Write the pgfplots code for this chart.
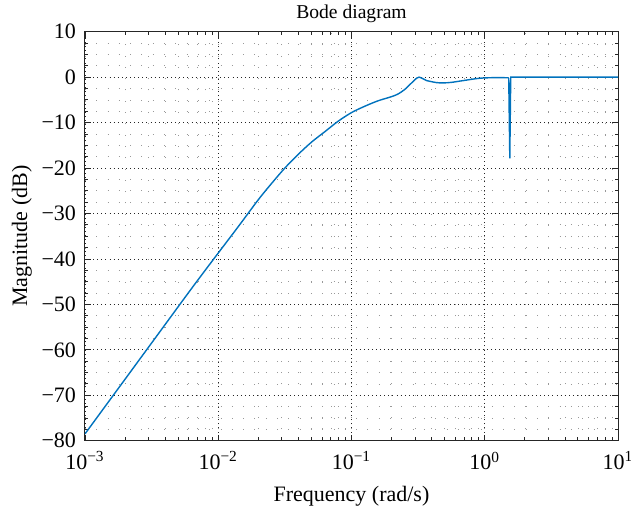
\documentclass[border=0pt]{standalone}
\usepackage{fontspec}
\setmainfont{Liberation Serif}
\usepackage{pgfplots}
\pgfplotsset{compat=1.18}
\definecolor{mblue}{RGB}{0,114,189}
\definecolor{axgray}{HTML}{262626}

\begin{document}
\begin{tikzpicture}
\begin{axis}[
  name=bode,
  scale only axis,
  width=266.5pt, height=204.5pt,
  xmode=log,
  xmin=1e-3, xmax=10,
  ymin=-80, ymax=10,
  xtick={1e-3,1e-2,1e-1,1,10},
  xticklabels={10\textsuperscript{−3},10\textsuperscript{−2},10\textsuperscript{−1},10\textsuperscript{0},10\textsuperscript{1}},
  ytick={-80,-70,...,10},
  yticklabels={−80,−70,−60,−50,−40,−30,−20,−10,0,10},
  minor y tick num=3,
  grid=both,
  major grid style={axgray, line width=0.35pt, dash pattern=on 0.45pt off 1.6pt},
  minor grid style={gray!80, line width=0.35pt, dash pattern=on 0.45pt off 5.2pt},
  axis line style={axgray, line width=0.5pt},
  tick style={axgray, line width=0.4pt},
  major tick length=3pt, minor tick length=1.6pt,
  tick align=inside,
  xticklabel style={yshift=-2pt},
  yticklabel style={xshift=-1pt},
  title={Bode diagram},
  title style={yshift=-5pt, font=\fontsize{9.8}{11}\selectfont},
  xlabel={Frequency (rad/s)},
  ylabel={Magnitude (dB)},
  xlabel style={yshift=-1pt},
  ylabel style={yshift=-2pt},
  label style={font=\fontsize{11}{13}\selectfont},
  tick label style={font=\fontsize{11}{13}\selectfont},
]
% magnitude response
\addplot[mblue, line width=0.7pt, smooth, tension=0.5] coordinates {
  (0.001,-78.5) (0.003162,-58.5) (0.00631,-46.5) (0.01,-38.7)
  (0.01413,-32.9) (0.01995,-27.0) (0.02512,-23.4) (0.03162,-20.0)
  (0.03981,-17.0) (0.05012,-14.3) (0.0631,-12.0) (0.07943,-9.7)
  (0.1,-7.8) (0.1259,-6.4) (0.1585,-5.2) (0.1995,-4.3)
  (0.2239,-3.7) (0.2512,-2.7) (0.2818,-1.3) (0.309,-0.2)
  (0.3221,0.0) (0.3467,-0.4) (0.3656,-0.75) (0.4345,-1.2)
  (0.4875,-1.27) (0.5623,-1.15) (0.6887,-0.76) (0.9183,-0.24)
  (1.2246,-0.1) (1.5136,-0.15)
};
% notch near 1.54 rad/s and flat tail
\addplot[mblue, line width=0.7pt] coordinates {
  (1.5136,-0.15) (1.5417,-17.85) (1.5668,0.0) (10,0.0)
};
\end{axis}
\pgfresetboundingbox
\useasboundingbox (bode.south west) ++(-42.5pt,-33.15pt) rectangle ++(315.5pt,253.5pt);
\end{tikzpicture}
\end{document}
